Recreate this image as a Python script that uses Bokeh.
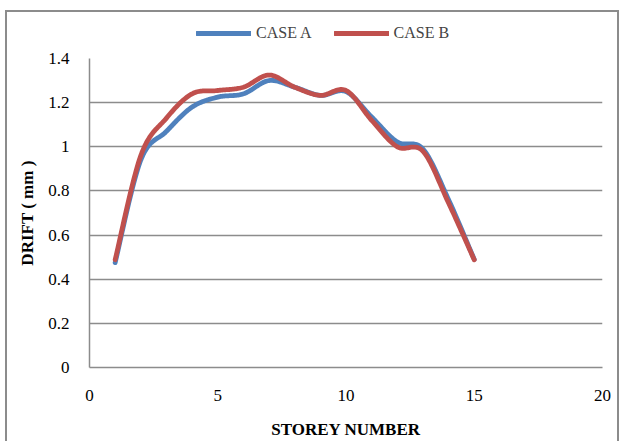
import numpy as np
from bokeh.plotting import figure
from bokeh.layouts import column
from bokeh.models import (Range1d, FixedTicker, Legend, LegendItem, InlineStyleSheet)
from bokeh.embed import file_html
from bokeh.resources import INLINE

storey = [1, 2, 3, 4, 5, 6, 7, 8, 9, 10, 11, 12, 13, 14, 15]
case_a = [0.475, 0.94, 1.07, 1.18, 1.225, 1.24, 1.30, 1.27, 1.233, 1.25, 1.135, 1.022, 0.99, 0.76, 0.49]
case_b = [0.488, 0.96, 1.13, 1.24, 1.255, 1.27, 1.325, 1.27, 1.233, 1.255, 1.12, 1.0, 0.98, 0.745, 0.488]
x_ticks = [0, 5, 10, 15, 20]
y_ticks = [0, 0.2, 0.4, 0.6, 0.8, 1.0, 1.2, 1.4]
y_tick_labels = ["0", "0.2", "0.4", "0.6", "0.8", "1", "1.2", "1.4"]
series_names = ["CASE A", "CASE B"]
colors = ["#4F81BD", "#C0504D"]
LINE_W = 4.8


def smooth(xs, ys, n=24):
    # Excel-like smoothed line (Catmull-Rom bezier through the data points)
    P = np.column_stack([xs, ys]).astype(float)
    ext = np.vstack([P[0], P, P[-1]])
    out = []
    for i in range(len(P) - 1):
        p0, p1, p2, p3 = ext[i], ext[i + 1], ext[i + 2], ext[i + 3]
        c1 = p1 + (p2 - p0) / 6.0
        c2 = p2 - (p3 - p1) / 6.0
        t = np.linspace(0, 1, n, endpoint=(i == len(P) - 2))[:, None]
        seg = ((1 - t) ** 3) * p1 + 3 * ((1 - t) ** 2) * t * c1 + 3 * (1 - t) * t ** 2 * c2 + t ** 3 * p2
        out.append(seg)
    s = np.vstack(out)
    return s[:, 0], s[:, 1]


# ---- legend strip (top) ----
pl = figure(width=628, height=45, output_backend="svg", toolbar_location=None,
            x_range=Range1d(0, 1), y_range=Range1d(0, 1),
            min_border_left=0, min_border_right=0, min_border_top=0, min_border_bottom=0)
pl.axis.visible = False
pl.grid.visible = False
pl.outline_line_color = None
leg_renderers = []
for ys, c in zip([case_a, case_b], colors):
    r = pl.line(storey, ys, line_color=c, line_width=LINE_W, line_cap="round", visible=False)
    leg_renderers.append(r)
legend = Legend(items=[LegendItem(label=n, renderers=[r]) for n, r in zip(series_names, leg_renderers)],
                orientation="horizontal", location=(107, 2),
                glyph_width=55, glyph_height=20, label_height=20, label_standoff=5, spacing=22,
                padding=0, margin=0, border_line_color=None, background_fill_alpha=0,
                label_text_font="Liberation Serif", label_text_font_size="16px")
pl.add_layout(legend, "center")

# ---- main chart ----
p = figure(width=628, height=396, output_backend="svg", toolbar_location=None,
           x_range=Range1d(0, 20), y_range=Range1d(0, 1.4),
           min_border_left=89, min_border_right=26, min_border_top=13, min_border_bottom=73)
p.outline_line_color = None
p.background_fill_color = "white"
p.border_fill_color = "white"

for ys, c in zip([case_a, case_b], colors):
    sx, sy = smooth(storey, ys)
    p.line(sx, sy, line_color=c, line_width=LINE_W, line_join="round", line_cap="round")

p.xgrid.grid_line_color = None
p.ygrid.grid_line_color = "#8C8C8C"
p.ygrid.grid_line_width = 1.5
p.ygrid.ticker = FixedTicker(ticks=y_ticks)

p.xaxis.ticker = FixedTicker(ticks=x_ticks)
p.yaxis.ticker = FixedTicker(ticks=y_ticks)
p.yaxis.major_label_overrides = {t: l for t, l in zip(y_ticks, y_tick_labels)}

for ax in (p.xaxis[0], p.yaxis[0]):
    ax.axis_line_color = "#8C8C8C"
    ax.axis_line_width = 1.5
    ax.major_tick_line_color = None
    ax.minor_tick_line_color = None
    ax.major_label_text_font = "Liberation Serif"
    ax.major_label_text_font_size = "17px"
    ax.major_label_text_color = "black"
    ax.axis_label_text_font = "Liberation Serif"
    ax.axis_label_text_font_size = "17px"
    ax.axis_label_text_font_style = "bold"
    ax.axis_label_text_color = "black"

p.xaxis.axis_label = "STOREY NUMBER"
p.yaxis.axis_label = "DRIFT ( mm )"
p.xaxis.major_label_standoff = 16
p.xaxis.axis_label_standoff = 16
p.yaxis.major_label_standoff = 14
p.yaxis.axis_label_standoff = 8

frame_css = InlineStyleSheet(css=""":host { position: relative; }
:host::after { content: ''; position: absolute; left: 5px; top: 10px; width: 614px; height: 431px;
  border: 2px solid #8C8C8C; border-bottom: none; box-sizing: border-box; pointer-events: none; }""")
layout = column(pl, p, spacing=0, stylesheets=[frame_css])

open("out.html", "w").write(file_html(layout, INLINE))
